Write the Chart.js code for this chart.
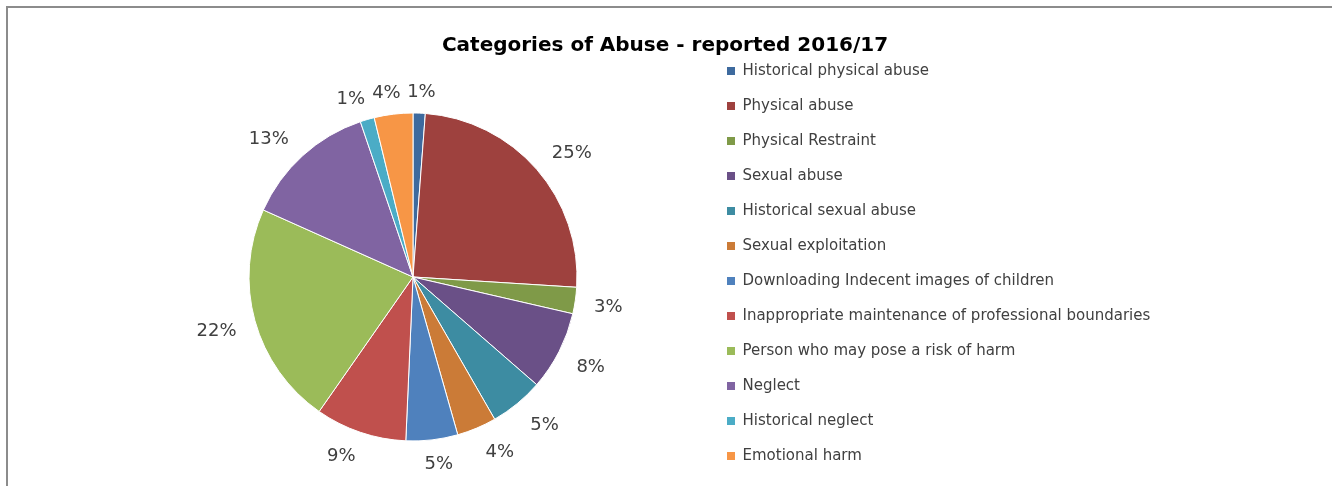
<!DOCTYPE html>
<html lang="en">

<head>
    <meta charset="UTF-8">
    <title>Categories of Abuse - reported 2016/17</title>
    <script src="https://cdn.jsdelivr.net/npm/chart.js"></script>
    <style>
        html, body {
            margin: 0;
            padding: 0;
            background: #fff;
            overflow: hidden;
        }
        .frame {
            position: absolute;
            left: 6px;
            top: 6px;
            width: 1326px;
            height: 480px;
            border-top: 2px solid #8c8c8c;
            border-left: 2px solid #8c8c8c;
            overflow: hidden;
        }
        .container {
            position: relative;
            width: 1324px;
            height: 540px;
        }
    </style>
</head>

<body>
    <div class="frame">
        <div class="container">
            <canvas id="grafico"></canvas>
        </div>
    </div>
    <script>
        const titleText = 'Categories of Abuse - reported 2016/17';

        const categories = [
            'Historical physical abuse',
            'Physical abuse',
            'Physical Restraint',
            'Sexual abuse',
            'Historical sexual abuse',
            'Sexual exploitation',
            'Downloading Indecent images of children',
            'Inappropriate maintenance of professional boundaries',
            'Person who may pose a risk of harm',
            'Neglect',
            'Historical neglect',
            'Emotional harm'
        ];

        // share of reports
        const values = [1.2, 24.8, 2.6, 7.8, 5.3, 3.9, 5.1, 9.0, 22.0, 13.1, 1.4, 3.8];

        const colours = [
            '#3e6a9e', '#9e413e', '#7f9a48', '#6a5087', '#3d8ca2', '#cb7b37',
            '#4f81bd', '#c0504d', '#9bbb59', '#8064a2', '#4bacc6', '#f79646'
        ];

        const legendFont = { family: 'DejaVu Sans', size: 15 };
        const labelFont = '18px "DejaVu Sans"';

        // work out right padding so the legend starts where it should
        const measure = document.createElement('canvas').getContext('2d');
        measure.font = legendFont.size + 'px "' + legendFont.family + '"';
        const widest = Math.max(...categories.map(c => measure.measureText(c).width));
        const legendLeft = 689;
        const padRight = 1324 - legendLeft - (20 + 8 + legendFont.size / 2 + widest + 20);

        const titlePlugin = {
            id: 'chartTitle',
            afterDraw(chart) {
                const ctx = chart.ctx;
                ctx.save();
                ctx.font = 'bold 20px "DejaVu Sans"';
                ctx.fillStyle = '#000';
                ctx.textAlign = 'center';
                ctx.textBaseline = 'middle';
                ctx.fillText(titleText, 657, 38);
                ctx.restore();
            }
        };

        // percentage labels outside the slices, box corner kept clear of the edge
        const percentPlugin = {
            id: 'percentLabels',
            afterDatasetsDraw(chart) {
                const ctx = chart.ctx;
                const meta = chart.getDatasetMeta(0);
                const total = values.reduce((a, b) => a + b, 0);
                const side = v => Math.max(-1, Math.min(1, v * 2.5));
                ctx.save();
                ctx.font = labelFont;
                ctx.fillStyle = '#404040';
                ctx.textAlign = 'center';
                ctx.textBaseline = 'middle';
                meta.data.forEach((arc, i) => {
                    const p = arc.getProps(['x', 'y', 'startAngle', 'endAngle', 'outerRadius'], true);
                    const a = (p.startAngle + p.endAngle) / 2;
                    const text = Math.round(values[i] / total * 100) + '%';
                    const w = ctx.measureText(text).width + 6;
                    const h = 14;
                    const d = p.outerRadius + 16;
                    const cx = p.x + Math.cos(a) * d + side(Math.cos(a)) * w / 2;
                    const cy = p.y + Math.sin(a) * d + side(Math.sin(a)) * h / 2 + 2;
                    ctx.fillText(text, cx, cy);
                });
                ctx.restore();
            }
        };

        const ctx = document.getElementById('grafico').getContext('2d');
        new Chart(ctx, {
            type: 'pie',
            data: {
                labels: categories,
                datasets: [{
                    data: values,
                    backgroundColor: colours,
                    borderColor: '#ffffff',
                    borderWidth: 1,
                    radius: 164
                }]
            },
            options: {
                responsive: true,
                maintainAspectRatio: false,
                animation: false,
                layout: {
                    padding: { top: 35.5, bottom: 37.5, left: 111, right: padRight }
                },
                plugins: {
                    tooltip: { enabled: false },
                    title: { display: false },
                    legend: {
                        position: 'right',
                        align: 'start',
                        labels: {
                            boxWidth: 8,
                            boxHeight: 8,
                            padding: 20,
                            color: '#404040',
                            font: legendFont,
                            generateLabels(chart) {
                                const items = Chart.overrides.doughnut.plugins.legend.labels.generateLabels(chart);
                                items.forEach(it => {
                                    it.strokeStyle = it.fillStyle;
                                    it.lineWidth = 0;
                                });
                                return items;
                            }
                        }
                    }
                }
            },
            plugins: [titlePlugin, percentPlugin]
        });
    </script>
</body>

</html>
